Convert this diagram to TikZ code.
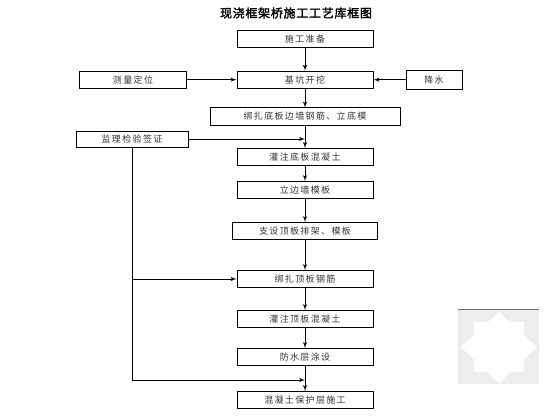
\documentclass[tikz,border=0pt]{standalone}
\usepackage{fontspec}
\newfontfamily\cjk[LetterSpace=15]{Noto Sans CJK SC}
\newfontfamily\cjktitle[LetterSpace=6,FakeBold=2]{Noto Sans CJK SC}
\usepackage{tikz}
\usetikzlibrary{shapes,arrows,positioning}
\usepackage{xcolor}

\begin{document}
\begin{tikzpicture}[
        x=1pt, y=-1pt, node distance=40pt,
        block/.style={rectangle, draw, line width=1pt, minimum width=136pt, minimum height=17pt, inner sep=0pt, text=black!80, font=\cjk\fontsize{9}{10}\selectfont},
        line/.style={draw, -latex', line width=1pt}
    ]
    \useasboundingbox (0,0) rectangle (560,420);
    \node [font=\cjktitle\fontsize{12}{14}\selectfont] (title) at (296,13) {现浇框架桥施工工艺库框图};
    \node [block] (prep) at (305,39) {施工准备};
    \node [block, below of=prep, node distance=40.7pt] (dig) {基坑开挖};
    \node [block, below of=dig, node distance=36.8pt, minimum width=190pt] (base) {绑扎底板边墙钢筋、立底模};
    \node [block, below of=base, node distance=40.5pt] (pourbase) {灌注底板混凝土};
    \node [block, below of=pourbase, node distance=33pt] (wall) {立边墙模板};
    \node [block, below of=wall, node distance=41pt, minimum width=145pt] (support) {支设顶板排架、模板};
    \node [block, below of=support, node distance=48pt] (roofbar) {绑扎顶板钢筋};
    \node [block, below of=roofbar, node distance=40pt] (pourroof) {灌注顶板混凝土};
    \node [block, below of=pourroof, node distance=38pt] (water) {防水层涂设};
    \node [block, below of=water, node distance=43pt] (protect) {混凝土保护层施工};
    \node [block, left of=dig, node distance=172pt, minimum width=107pt] (survey) {测量定位};
    \node [block, right of=dig, node distance=129pt, minimum width=56pt, minimum height=19pt] (drain) {降水};
    \node [block, minimum width=112pt, minimum height=16pt] (check) at (132,139) {监理检验签证};
    \coordinate (join) at (305,380);
    \path [line] (prep) -- (dig);
    \path [line] (dig) -- (base);
    \path [line] (base) -- (pourbase);
    \path [line] (pourbase) -- (wall);
    \path [line] (wall) -- (support);
    \path [line] (support) -- (roofbar);
    \path [line] (roofbar) -- (pourroof);
    \path [line] (pourroof) -- (water);
    \path [line] (water) -- (protect);
    \path [line] (survey) -- (dig);
    \path [line] (drain) -- (dig);
    \path [line] (check) -- (check -| base);
    \path [line] (check.south) |- (join);
    \path [line] (check.south |- roofbar) -- (roofbar.west);
    % watermark in the corner
    \fill [black!7] (458,309) rectangle (539,384);
    \draw [black!55, line width=0.8pt] (458,309) -- (539,309);
    \fill [white] (499,312) -- (537,347) -- (499,383) -- (461,347) -- cycle;
    \fill [white] (474,322) rectangle (524,372);
\end{tikzpicture}
\end{document}
